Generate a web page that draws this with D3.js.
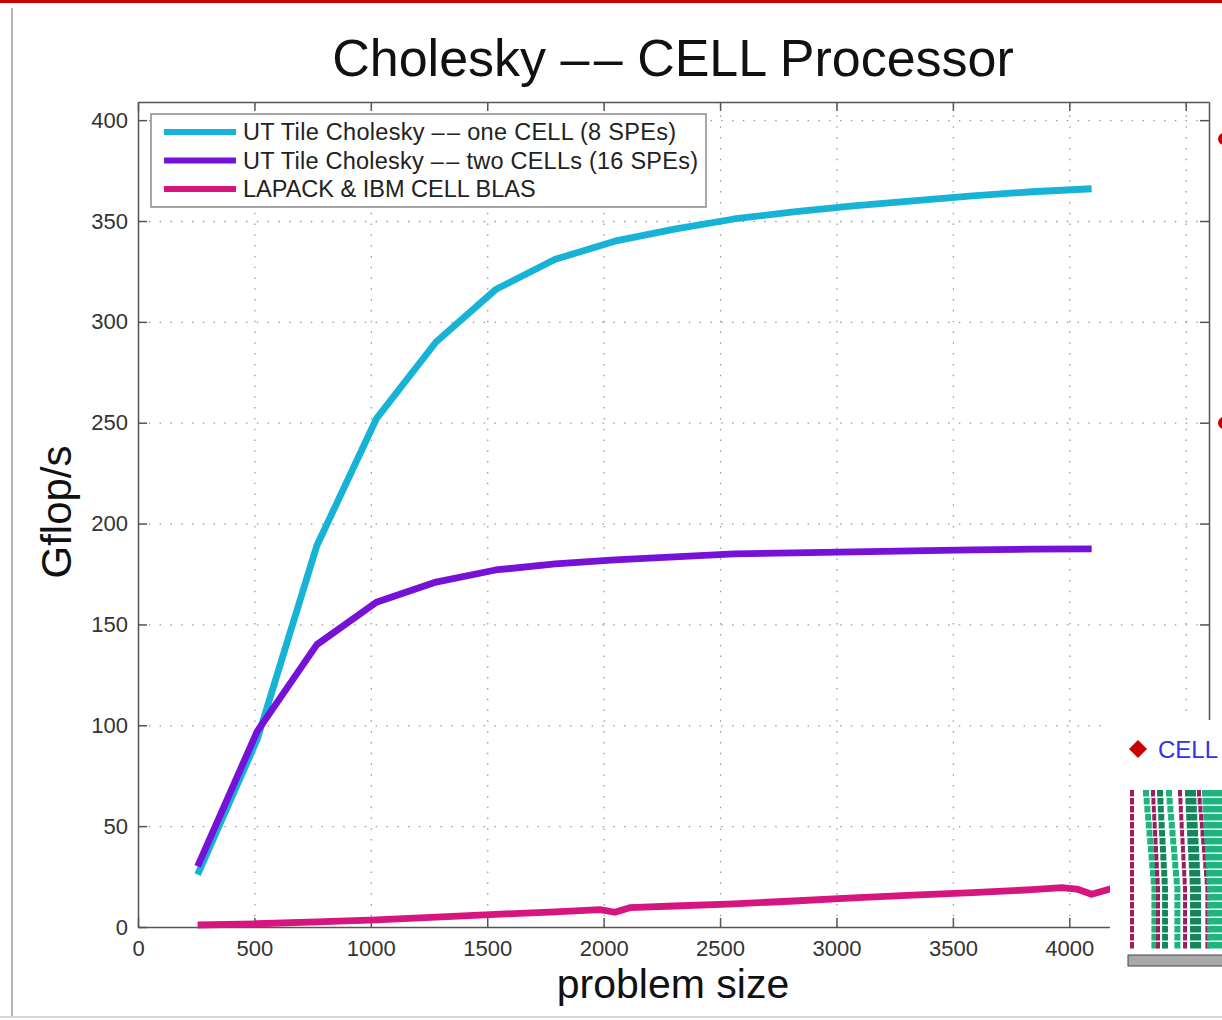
<!DOCTYPE html>
<html>
<head>
<meta charset="utf-8">
<script src="https://cdn.jsdelivr.net/npm/d3@7"></script>
<style>
  body { margin: 0; background: #fff; }
  svg { display: block; font-family: "Liberation Sans", Arial, Helvetica, sans-serif; }
  .grid line { stroke: #9a9a9a; stroke-width: 1.3; stroke-dasharray: 1.5,9.3; }
  .grid path { display: none; }
  .axis path, .axis line { stroke: #555; stroke-width: 1.5; }
  .axis text { fill: #333; font-size: 22px; }
</style>
</head>
<body>
<div id="chart"></div>
<script>
// problem sizes (x) and Gflop/s
var sizes = [256, 512, 768, 1024, 1280, 1536, 1792, 2048, 2304, 2560, 2816, 3072, 3328, 3584, 3840, 4096];
var oneCell = [26, 93, 189, 252, 290, 316, 331, 340, 346, 351, 354.5, 357.5, 360, 362.5, 364.5, 366];
var twoCells = [30, 97, 140, 161, 171, 177, 180, 182, 183.5, 185, 185.5, 186, 186.5, 187, 187.3, 187.5];

var lapackSizes = [256, 512, 768, 1024, 1280, 1536, 1792, 1984, 2048, 2112, 2304, 2560, 2816, 3072, 3328, 3584, 3840, 3968, 4032, 4096, 4224];
var lapack = [1, 1.6, 2.5, 3.5, 4.9, 6.3, 7.5, 8.6, 7.3, 9.6, 10.4, 11.5, 12.9, 14.4, 15.8, 17.0, 18.5, 19.5, 18.8, 16.2, 20.5];

var seriesNames = ["UT Tile Cholesky \u2013\u200a\u2013 one CELL (8 SPEs)",
                   "UT Tile Cholesky \u2013\u200a\u2013 two CELLs (16 SPEs)",
                   "LAPACK & IBM CELL BLAS"];
var seriesColors = ["#16b3d7", "#7612d8", "#d6157f"];

var xTicks = [0, 500, 1000, 1500, 2000, 2500, 3000, 3500, 4000, 4500];
var yTicks = [0, 50, 100, 150, 200, 250, 300, 350, 400];

var width = 1222, height = 1020;
var plotLeft = 138, plotRight = 1209, plotTop = 102, plotBottom = 927;

var svg = d3.select("#chart").append("svg")
  .attr("width", width)
  .attr("height", height);

// slide frame bits
svg.append("rect").attr("x", 0).attr("y", 0).attr("width", width).attr("height", 3).attr("fill", "#cc0000");
svg.append("line").attr("x1", 12).attr("x2", 12).attr("y1", 8).attr("y2", 1016)
  .attr("stroke", "#b5b5b5").attr("stroke-width", 2);
svg.append("line").attr("x1", 0).attr("x2", width).attr("y1", 1017).attr("y2", 1017)
  .attr("stroke", "#d5d5d5").attr("stroke-width", 2);

var x = d3.scaleLinear().domain([0, 4600]).range([plotLeft, plotRight]);
var y = d3.scaleLinear().domain([0, 409]).range([plotBottom, plotTop]);

// dotted grid
svg.append("g").attr("class", "grid")
  .attr("transform", "translate(0," + plotBottom + ")")
  .call(d3.axisBottom(x).tickValues(xTicks.slice(1)).tickSize(-(plotBottom - plotTop)).tickFormat(""));
svg.append("g").attr("class", "grid")
  .attr("transform", "translate(" + plotLeft + ",0)")
  .call(d3.axisLeft(y).tickValues(yTicks.slice(1)).tickSize(-(plotRight - plotLeft)).tickFormat(""));

// box axes with inward ticks
svg.append("g").attr("class", "axis")
  .attr("transform", "translate(0," + plotBottom + ")")
  .call(d3.axisBottom(x).tickValues(xTicks).tickSizeInner(-9).tickSizeOuter(0).tickPadding(13).tickFormat(d3.format("d")));
svg.append("g").attr("class", "axis")
  .attr("transform", "translate(0," + plotTop + ")")
  .call(d3.axisTop(x).tickValues(xTicks).tickSizeInner(-9).tickSizeOuter(0).tickFormat(""));
svg.append("g").attr("class", "axis")
  .attr("transform", "translate(" + plotLeft + ",0)")
  .call(d3.axisLeft(y).tickValues(yTicks).tickSizeInner(-9).tickSizeOuter(0).tickPadding(10).tickFormat(d3.format("d")));
svg.append("g").attr("class", "axis")
  .attr("transform", "translate(" + plotRight + ",0)")
  .call(d3.axisRight(y).tickValues(yTicks).tickSizeInner(-9).tickSizeOuter(0).tickFormat(""));

// lines
var line = d3.line()
  .x(function(d) { return x(d[0]); })
  .y(function(d) { return y(d[1]); });

var series = [
  d3.zip(sizes, oneCell),
  d3.zip(sizes, twoCells),
  d3.zip(lapackSizes, lapack)
];

[2, 0, 1].forEach(function(i) {
  svg.append("path")
    .datum(series[i])
    .attr("d", line)
    .attr("fill", "none")
    .attr("stroke", seriesColors[i])
    .attr("stroke-width", 6.8)
    .attr("stroke-linejoin", "round");
});

// legend
var legend = svg.append("g");
legend.append("rect")
  .attr("x", 151).attr("y", 114).attr("width", 555).attr("height", 93)
  .attr("fill", "#fff").attr("stroke", "#8a8a8a").attr("stroke-width", 1.5);
seriesNames.forEach(function(name, i) {
  var yy = 132 + i * 28.5;
  legend.append("line")
    .attr("x1", 164).attr("x2", 236).attr("y1", yy).attr("y2", yy)
    .attr("stroke", seriesColors[i]).attr("stroke-width", 6);
  legend.append("text")
    .attr("x", 243).attr("y", yy + 8)
    .attr("font-size", 23.5).attr("fill", "#222")
    .attr("textLength", i === 0 ? 433 : i === 1 ? 455 : null)
    .text(name);
});

// titles
svg.append("text")
  .attr("x", 673).attr("y", 76)
  .attr("text-anchor", "middle")
  .attr("font-size", 52).attr("fill", "#111")
  .text("Cholesky \u2013\u200a\u2013 CELL Processor");

svg.append("text")
  .attr("transform", "translate(71,512) rotate(-90)")
  .attr("text-anchor", "middle")
  .attr("font-size", 42).attr("fill", "#111")
  .text("Gflop/s");

svg.append("text")
  .attr("x", 673).attr("y", 998)
  .attr("text-anchor", "middle")
  .attr("font-size", 41).attr("fill", "#111")
  .text("problem size");

// neighbouring slide content on the right
svg.append("circle").attr("cx", 1224).attr("cy", 139).attr("r", 6).attr("fill", "#cc0000");
svg.append("circle").attr("cx", 1224).attr("cy", 423).attr("r", 6).attr("fill", "#cc0000");

var over = svg.append("g");
over.append("rect").attr("x", 1110).attr("y", 720).attr("width", 112).attr("height", 296).attr("fill", "#fff");
over.append("path")
  .attr("d", "M1138,740 L1147,749 L1138,758 L1129,749 Z")
  .attr("fill", "#cc0000");
over.append("text")
  .attr("x", 1158).attr("y", 758)
  .attr("font-size", 24).attr("fill", "#3030f0")
  .text("CELL");

// little trace picture
var traceCols = [[0, 4, "#9c1f5c"], [13, 6, "#1db57c"], [21, 4, "#9c1f5c"], [27, 6, "#13865b"],
                 [36, 6, "#1db57c"], [48, 4, "#9c1f5c"], [55, 11, "#13865b"], [67, 4, "#9c1f5c"],
                 [72, 24, "#1db57c"]];
var trace = over.append("g").attr("transform", "translate(1130,790)");
d3.range(20).forEach(function(r) {
  traceCols.forEach(function(c, j) {
    var shift = j === 0 ? 0 : Math.min(r, 12) * 0.7 * (j % 3 === 1 ? 1 : 0.6);
    trace.append("rect")
      .attr("x", c[0] + shift).attr("y", r * 8)
      .attr("width", c[1]).attr("height", 6.5)
      .attr("fill", c[2]);
  });
});
over.append("rect").attr("x", 1128).attr("y", 955).attr("width", 100).attr("height", 11)
  .attr("fill", "#a9a9a9").attr("stroke", "#444").attr("stroke-width", 1);
</script>
</body>
</html>
